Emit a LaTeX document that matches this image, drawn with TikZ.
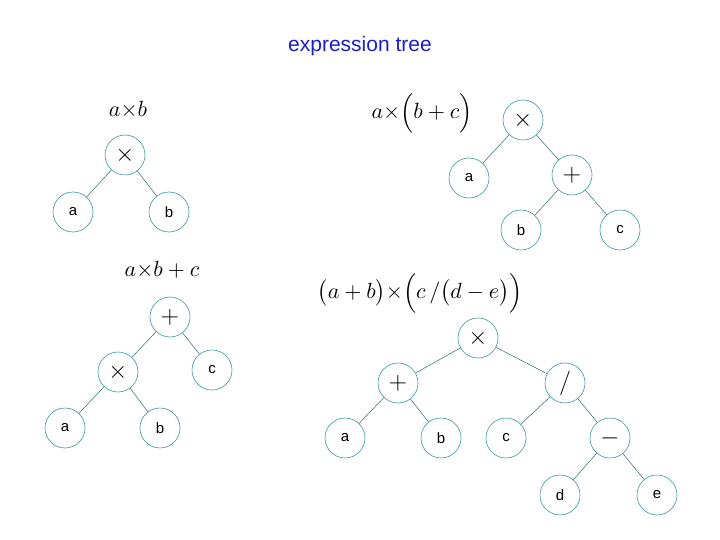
\documentclass[tikz,border=0pt]{standalone}
\usepackage{fontspec}
\setmainfont{Liberation Sans}
\usepackage{graphicx}
\definecolor{ring}{RGB}{60,150,160}
\definecolor{ttl}{RGB}{30,30,200}
\newcommand{\op}[1]{\scalebox{1.7}{$#1$}}
\newcommand{\fml}[1]{\scalebox{2.2}{$#1$}}
\begin{document}
\begin{tikzpicture}[x=1pt,y=-1pt,
  nd/.style={circle,draw=ring,line width=0.6pt,minimum size=40pt,inner sep=0pt,font=\fontsize{15}{17}\selectfont},
  ed/.style={draw=ring!70!black,line width=0.5pt},
  fm/.style={inner sep=0pt}]
\useasboundingbox (0,0) rectangle (720,540);
\node[text=ttl,font=\fontsize{21}{23}\selectfont] (title) at (360,46) {expression tree};
% tree 1
\node[fm] (f1) at (128,110) {\fml{a{\times}b}};
\node[nd] (t1r) at (125,155) {\op{\times}};
\node[nd] (t1a) at (73,212) {a};
\node[nd] (t1b) at (169,212) {b};
\draw[ed] (t1r)--(t1a); \draw[ed] (t1r)--(t1b);
% tree 2
\node[fm] (f2) at (422,113) {\fml{a{\times}\Bigl(b+c\Bigr)}};
\node[nd] (t2r) at (523,120) {\op{\times}};
\node[nd] (t2p) at (572,175) {\op{+}};
\node[nd] (t2a) at (469,178) {a};
\node[nd] (t2b) at (521,230) {b};
\node[nd] (t2c) at (620,230) {c};
\draw[ed] (t2r)--(t2a); \draw[ed] (t2r)--(t2p);
\draw[ed] (t2p)--(t2b); \draw[ed] (t2p)--(t2c);
% tree 3
\node[fm] (f3) at (162,270) {\fml{a{\times}b+c}};
\node[nd] (t3r) at (170,317) {\op{+}};
\node[nd] (t3m) at (118,372) {\op{\times}};
\node[nd] (t3c) at (212,370) {c};
\node[nd] (t3a) at (65,428) {a};
\node[nd] (t3b) at (160,428) {b};
\draw[ed] (t3r)--(t3m); \draw[ed] (t3r)--(t3c);
\draw[ed] (t3m)--(t3a); \draw[ed] (t3m)--(t3b);
% tree 4
\node[fm] (f4) at (420,293) {\fml{\bigl(a+b\bigr){\times}\Bigl(c\,/\bigl(d-e\bigr)\Bigr)}};
\node[nd] (t4r) at (478,338) {\op{\times}};
\node[nd] (t4p) at (398,383) {\op{+}};
\node[nd] (t4d) at (565,383) {\op{/}};
\node[nd] (t4a) at (345,438) {a};
\node[nd] (t4b) at (441,438) {b};
\node[nd] (t4c) at (506,438) {c};
\node[nd] (t4m) at (610,438) {\op{-}};
\node[nd] (t4dd) at (560,495) {d};
\node[nd] (t4e) at (657,495) {e};
\draw[ed] (t4r)--(t4p); \draw[ed] (t4r)--(t4d);
\draw[ed] (t4p)--(t4a); \draw[ed] (t4p)--(t4b);
\draw[ed] (t4d)--(t4c); \draw[ed] (t4d)--(t4m);
\draw[ed] (t4m)--(t4dd); \draw[ed] (t4m)--(t4e);
\end{tikzpicture}
\end{document}
